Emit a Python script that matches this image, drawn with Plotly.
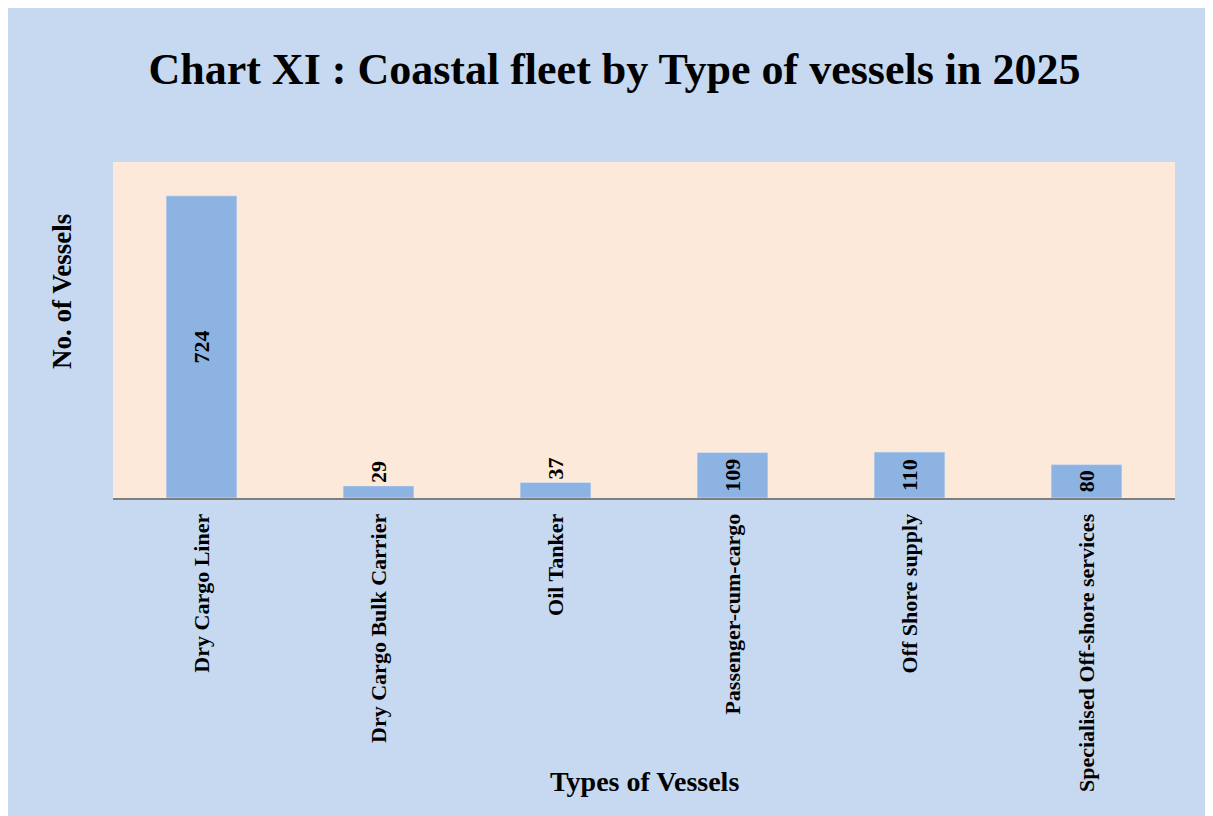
import plotly.graph_objects as go

# Couleurs reprises du graphique Excel d'origine
FOND = "#C6D9F1"
ZONE = "#FDE9D9"
BARRE = "#8DB3E2"
POLICE = "Liberation Serif"

types_navires = [
    "Dry Cargo Liner",
    "Dry Cargo Bulk Carrier",
    "Oil Tanker",
    "Passenger-cum-cargo",
    "Off Shore supply",
    "Specialised Off-shore services",
]
nombre_navires = [724, 29, 37, 109, 110, 80]
position_texte = ["inside", "outside", "outside", "inside", "inside", "inside"]

police_barres = dict(family=POLICE, size=22, color="black", weight="bold")

fig = go.Figure(
    go.Bar(
        x=types_navires,
        y=nombre_navires,
        text=[str(v) for v in nombre_navires],
        textposition=position_texte,
        textangle=-90,
        insidetextanchor="middle",
        textfont=police_barres,
        insidetextfont=police_barres,
        outsidetextfont=police_barres,
        marker_color=BARRE,
        width=0.4,
        cliponaxis=False,
    )
)

fig.update_layout(
    width=1213,
    height=816,
    paper_bgcolor=FOND,
    plot_bgcolor=ZONE,
    margin=dict(l=105, r=46, t=154, b=326),
    showlegend=False,
    uniformtext=dict(minsize=22, mode="show"),
    title=dict(
        text="<b>Chart XI : Coastal fleet by Type of vessels in 2025</b>",
        x=0.5,
        xanchor="center",
        y=0.926,
        yanchor="middle",
        font=dict(family=POLICE, size=44, color="black"),
    ),
    xaxis=dict(
        tickangle=-90,
        tickfont=dict(family=POLICE, size=22, color="black", weight="bold"),
        ticklabelstandoff=5,
        showline=True,
        linecolor="#7F7F7F",
        linewidth=2,
        showgrid=False,
        ticks="",
        range=[-0.5, 5.5],
    ),
    yaxis=dict(
        range=[0, 805],
        showticklabels=False,
        showgrid=False,
        zeroline=False,
        showline=False,
        ticks="",
    ),
    annotations=[
        dict(
            text="<b>Types of Vessels</b>",
            xref="paper", yref="paper",
            x=0.5, y=-0.845,
            xanchor="center", yanchor="middle",
            showarrow=False,
            font=dict(family=POLICE, size=28, color="black"),
        ),
        dict(
            text="<b>No. of Vessels</b>",
            xref="paper", yref="paper",
            x=-0.048, y=0.613,
            xanchor="center", yanchor="middle",
            textangle=-90,
            showarrow=False,
            font=dict(family=POLICE, size=27, color="black"),
        ),
    ],
)

fig.write_html("out.html")
